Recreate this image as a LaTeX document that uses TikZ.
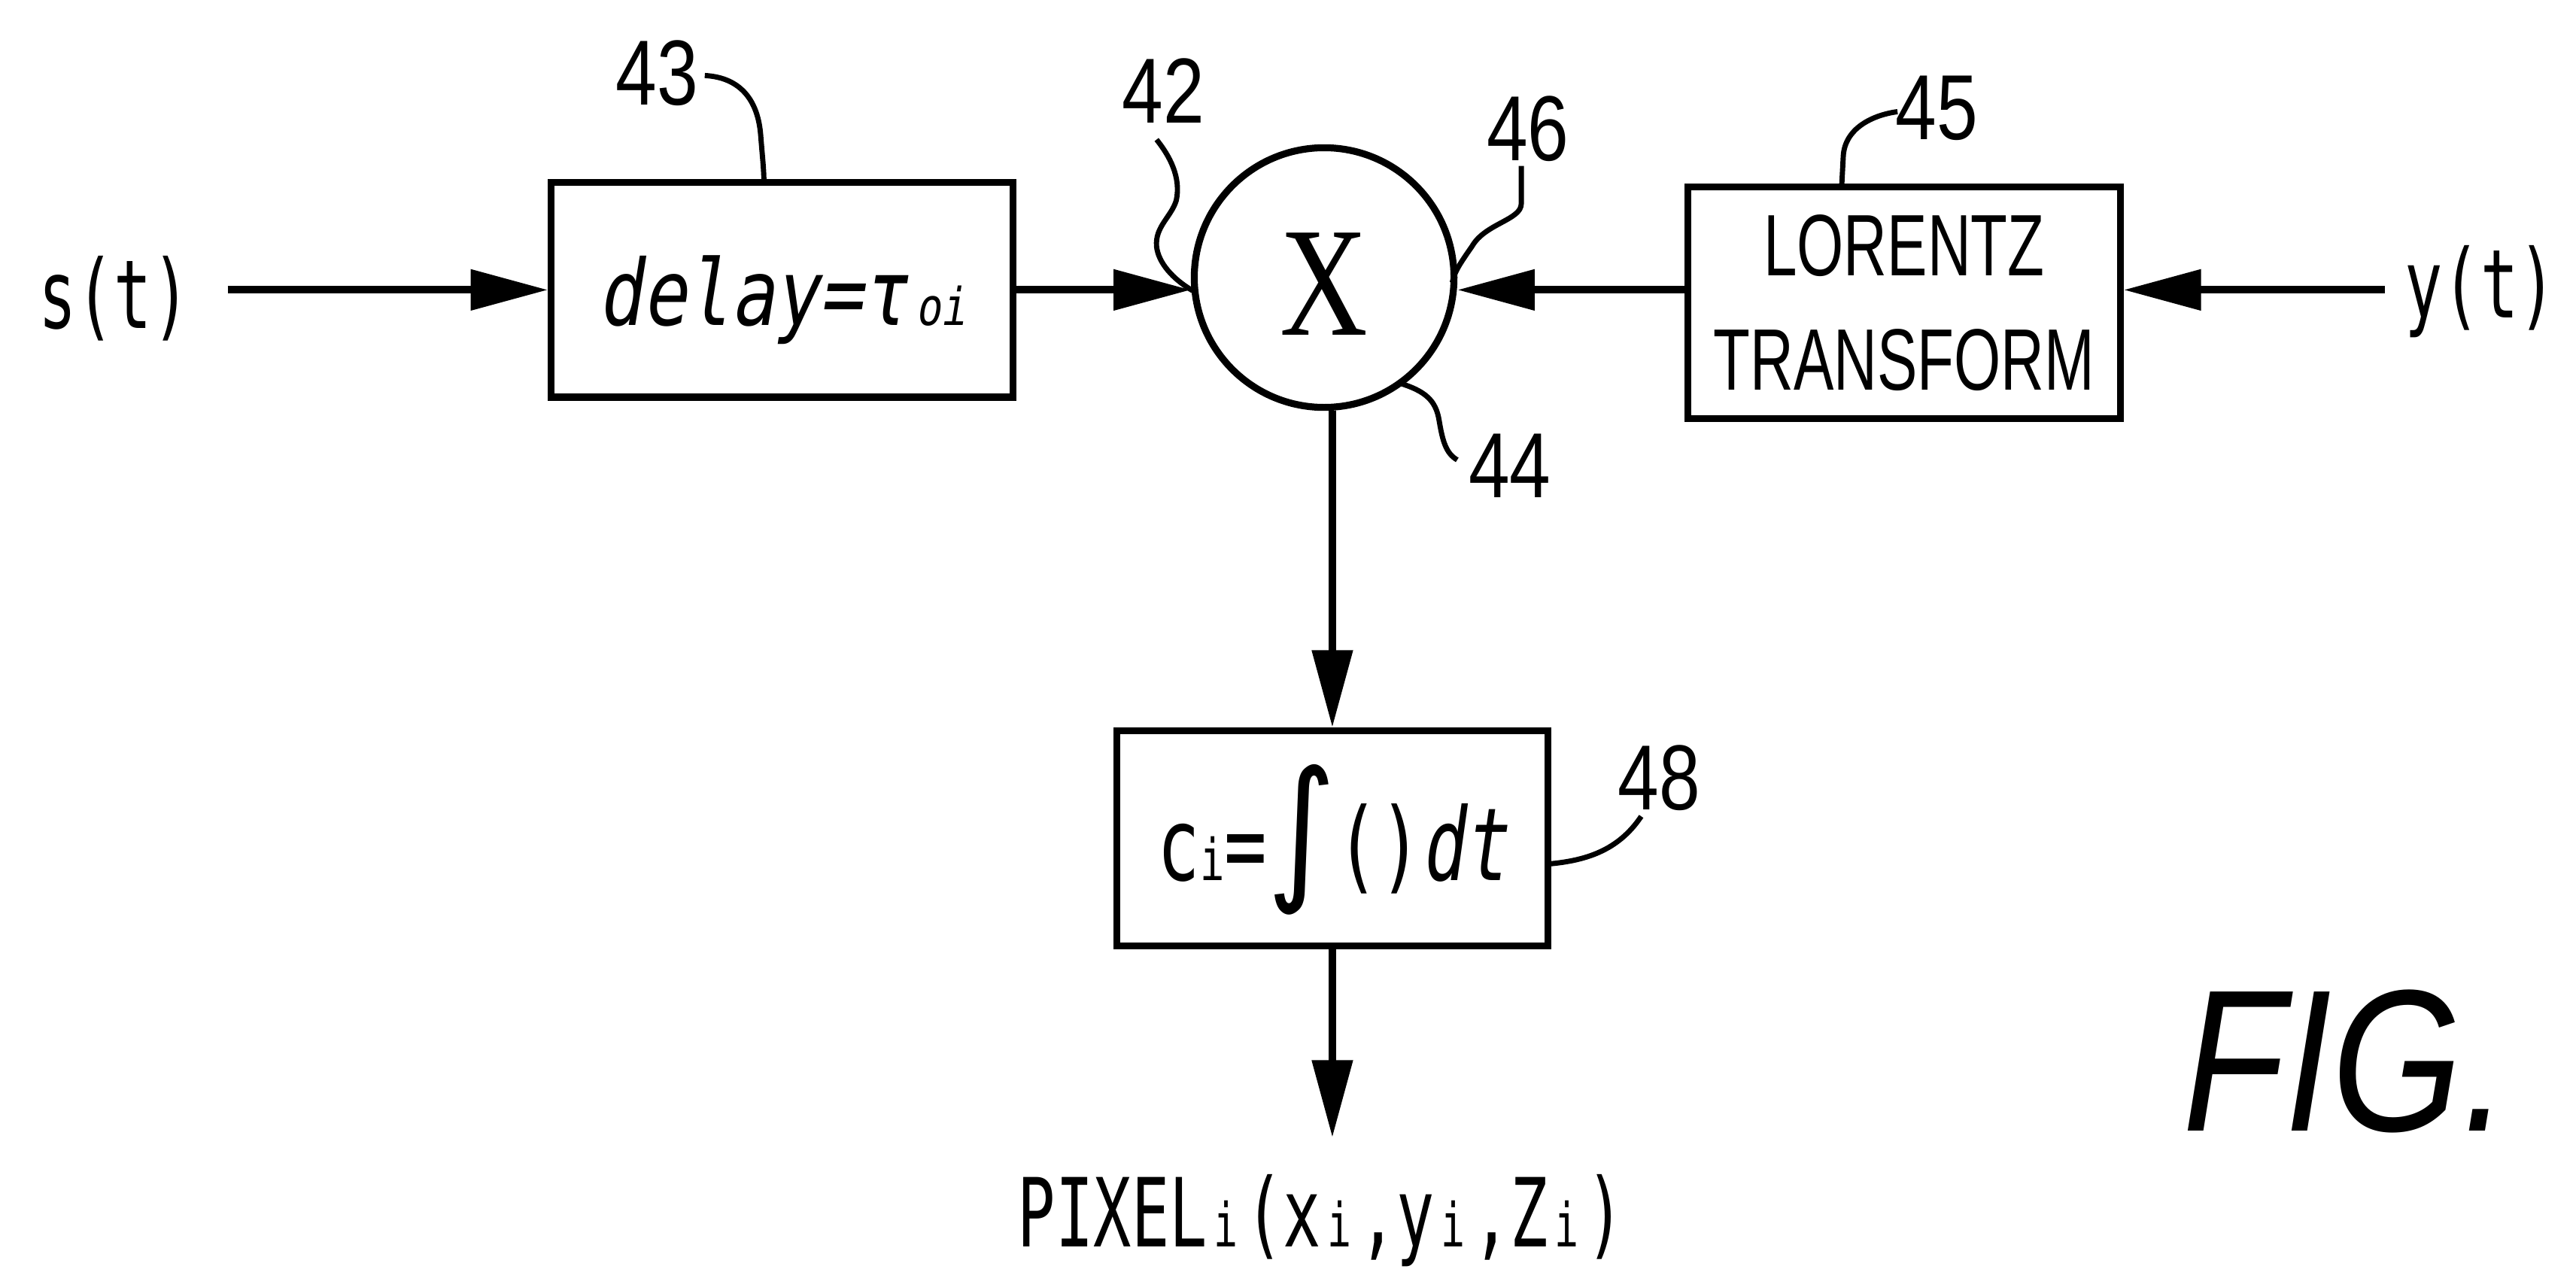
\documentclass[tikz,border=0pt]{standalone}
\usepackage{fontspec}
\usepackage{graphicx}
\usetikzlibrary{arrows.meta}
\newfontfamily\dmono{DejaVu Sans Mono}
\newfontfamily\dmonoi[FakeSlant=0.2]{DejaVu Sans Mono}
\newfontfamily\lsans{Liberation Sans}
\newfontfamily\lserif{Liberation Serif}
\newfontfamily\dsans{DejaVu Sans}
\newcommand\monotxt[1]{\scalebox{0.66}[1]{\dmono\fontsize{16.5pt}{18pt}\selectfont #1}}
\newcommand\monosub[1]{\makebox[6.55pt][c]{\scalebox{0.66}[1]{\dmono\fontsize{10.5pt}{12pt}\selectfont #1}}}
\newcommand\numtxt[1]{\scalebox{0.8}[1]{\lsans\fontsize{16pt}{18pt}\selectfont #1}}
\newcommand\delaytxt{\scalebox{0.8}[1]{\dmonoi\fontsize{15.8pt}{17pt}\selectfont delay=τ\kern2pt{\fontsize{9pt}{10pt}\selectfont oi}}}
\newcommand\citxt{%
\scalebox{0.7}[1]{\dmono\fontsize{17.5pt}{19pt}\selectfont c}%
\scalebox{0.7}[1]{\dmono\fontsize{10pt}{12pt}\selectfont i}%
\scalebox{0.7}[1]{\dmono\fontsize{17.5pt}{19pt}\selectfont =}%
\raisebox{-0.21cm}{\resizebox{0.42cm}{0.915cm}{\raisebox{\depth}{\dsans ∫}}}%
\scalebox{0.7}[1]{\dmono\fontsize{17.5pt}{19pt}\selectfont ()}%
\scalebox{0.7}[1]{\dmonoi\fontsize{17.5pt}{19pt}\selectfont dt}}
\tikzset{
  blk/.style={draw, line width=1.2pt, rectangle, inner sep=0pt},
  arr/.style={-{Triangle[length=0.47cm,width=0.24cm]}, line width=1.3pt},
  lead/.style={line width=0.9pt},
  lbl/.style={inner sep=0pt, anchor=base},
}
\begin{document}
\begin{tikzpicture}[x=0.01cm,y=-0.01cm]
\useasboundingbox (0,0) rectangle (1568,774);
% blocks
\node[blk, minimum width=2.81cm, minimum height=1.305cm, text height=0.56cm, text depth=0.13cm] (delay) at (476.2,176.5) {\delaytxt};
\node[circle, draw, line width=1.2pt, minimum size=1.58cm, inner sep=0pt, text height=0.70cm, text depth=0cm] (circ) at (806,169) {\scalebox{0.78}[1]{\lserif\fontsize{27pt}{30pt}\selectfont X}};
\node[blk, minimum width=2.63cm, minimum height=1.41cm, align=center, font=\lsans\fontsize{15.1pt}{19.8pt}\selectfont] (lor) at (1159,184.5) {\scalebox{0.69}[1]{LORENTZ}\\\scalebox{0.69}[1]{TRANSFORM}};
\node[blk, minimum width=2.625cm, minimum height=1.31cm, text height=0.72cm, text depth=0.21cm] (cbox) at (811,510.5) {\citxt};
% signal texts
\node[lbl, inner xsep=6.3pt] (st) at (69.6,200) {\monotxt{s(t)}};
\node[lbl, inner xsep=3.3pt] (yt) at (1510,193.3) {\monotxt{y(t)}};
\node[lbl, inner ysep=6.2pt] (pix) at (804,759) {\monotxt{PIXEL}\monosub{i}\monotxt{(x}\monosub{i}\monotxt{,y}\monosub{i}\monotxt{,Z}\monosub{i}\monotxt{)}};
% connectors
\draw[arr] (st.east |- delay.west) -- (delay.west);
\draw[arr] (delay.east) -- (delay.east -| circ.west);
\draw[arr] (lor.west |- delay.east) -- (circ.east |- delay.east);
\draw[arr] (yt.west |- delay.east) -- (lor.east |- delay.east);
\draw[arr] (circ.south -| cbox.north) -- (cbox.north);
\draw[arr] (cbox.south) -- (cbox.south |- pix.north);
% reference numerals
\node[lbl] (n43) at (400,64) {\numtxt{43}};
\node[lbl] (n42) at (708,75) {\numtxt{42}};
\node[lbl] (n46) at (930,98) {\numtxt{46}};
\node[lbl] (n45) at (1179,85) {\numtxt{45}};
\node[lbl] (n44) at (919,303) {\numtxt{44}};
\node[lbl] (n48) at (1010,493) {\numtxt{48}};
\node[lbl] (fig) at (1428,688.5) {\scalebox{0.83}[1]{\lsans\itshape\fontsize{35pt}{40pt}\selectfont FIG.}};
% leader lines
\draw[lead] (429,46) .. controls (448,47) and (461,58) .. (463,82) .. controls (464,95) and (465,103) .. (465,111.3);
\draw[lead] (704,85) .. controls (712,95) and (719,108) .. (716,122) .. controls (713,132) and (703,138) .. (704,150) .. controls (705,160) and (714,170) .. (726,177);
\draw[lead] (926,101) -- (926,124) .. controls (926,134) and (904,136) .. (896,150) .. controls (889,160) and (885,166) .. (884,172);
\draw[lead] (851,233) .. controls (868,238) and (874,244) .. (876,256) .. controls (878,268) and (880,276) .. (887,280);
\draw[lead] (1155,68) .. controls (1140,70) and (1123,78) .. (1122,95) -- (1121,114);
\draw[lead] (942.5,526) .. controls (965,524) and (985,518) .. (999,497);
\end{tikzpicture}
\end{document}
